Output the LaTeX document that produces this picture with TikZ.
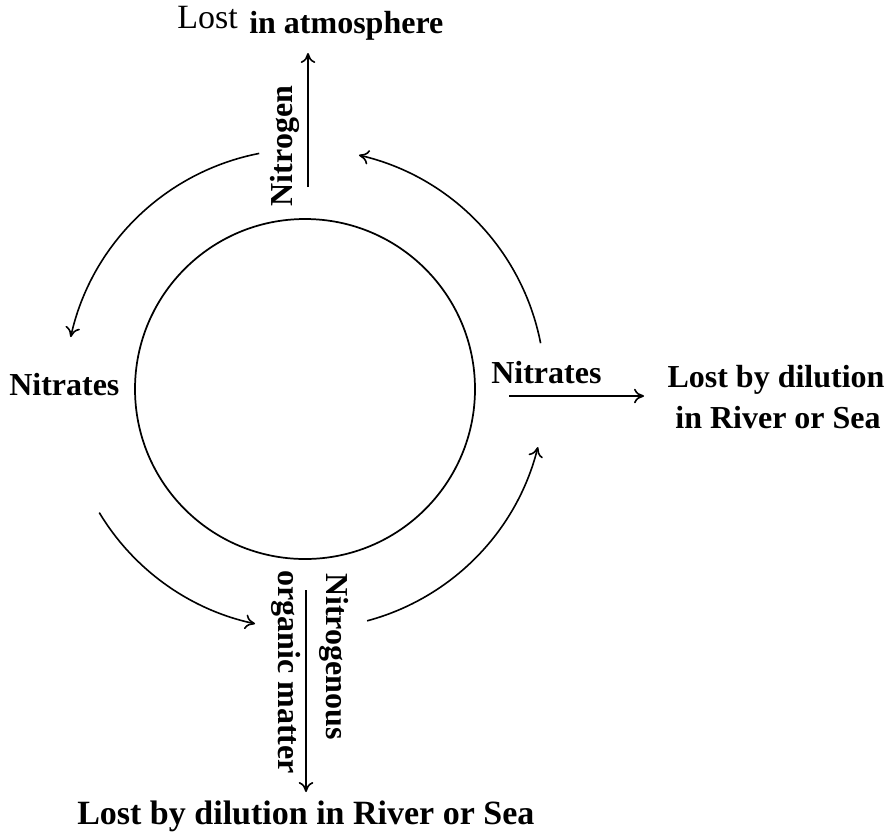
\documentclass[tikz,border=0pt]{standalone}
\usepackage{fontspec}
\setmainfont{Liberation Serif}
\usetikzlibrary{arrows.meta,calc}

\begin{document}
\begin{tikzpicture}[x=0.75pt,y=0.75pt,yscale=-1,xscale=1,
  lbl/.style={inner sep=0pt,font=\fontsize{24}{29}\selectfont\bfseries},
  big/.style={inner sep=0pt,font=\fontsize{25.5}{30}\selectfont\bfseries},
  flow/.style={line width=1.2pt,-{To[length=7.5pt,width=11pt]}}]
\useasboundingbox (0,0) rectangle (891,833);

%Shape: Circle
\coordinate (ctr) at (305,389);
\draw [line width=1.3pt] (ctr) circle [radius=170];

% Text Node
\node [inner sep=0pt,font=\fontsize{25.5}{30}\selectfont,anchor=base west] (lost) at (177,28) {Lost};
% Text Node
\node [lbl,anchor=base west] (atmos) at (249,33) {in atmosphere};
% Text Node
\node [lbl,rotate=90] (nitrogen) at (285,146) {Nitrogen};
% Text Node
\node [lbl,anchor=base west] (nitratesL) at (9,395) {Nitrates};
% Text Node
\node [lbl,anchor=base west] (nitratesR) at (491,383) {Nitrates};
% Text Node
\node [lbl,anchor=base] (dilR) at (776,387) {Lost by dilution};
% Text Node
\node [lbl,anchor=base] (seaR) at (778,428) {in River or Sea};
% Text Node
\node [lbl,rotate=-90,anchor=base west] (nitrogenous) at (326,573) {Nitrogenous};
% Text Node
\node [lbl,rotate=-90,anchor=base west] (organic) at (278,570) {organic matter};
% Text Node
\node [big,anchor=base west] (dilB) at (77,824) {Lost by dilution in River or Sea};

%Straight Lines
\coordinate (upS) at (308,187);
\coordinate (upE) at (308,53);
\draw [flow] (upS) -- (upE);
%Straight Lines
\coordinate (rtS) at (509,396);
\coordinate (rtE) at (644,396);
\draw [flow] (rtS) -- (rtE);
%Straight Lines
\coordinate (dnS) at (306,590);
\coordinate (dnE) at (306,792);
\draw [flow] (dnS) -- (dnE);

%Shape: Arcs
\draw [flow] ($(ctr)+(-101:240)$) arc [start angle=-101,end angle=-167.5,radius=240];
\draw [flow] ($(ctr)+(149:240)$) arc [start angle=149,end angle=102,radius=240];
\draw [flow] ($(ctr)+(75:240)$) arc [start angle=75,end angle=14,radius=240];
\draw [flow] ($(ctr)+(-11:240)$) arc [start angle=-11,end angle=-77,radius=240];

\end{tikzpicture}
\end{document}
